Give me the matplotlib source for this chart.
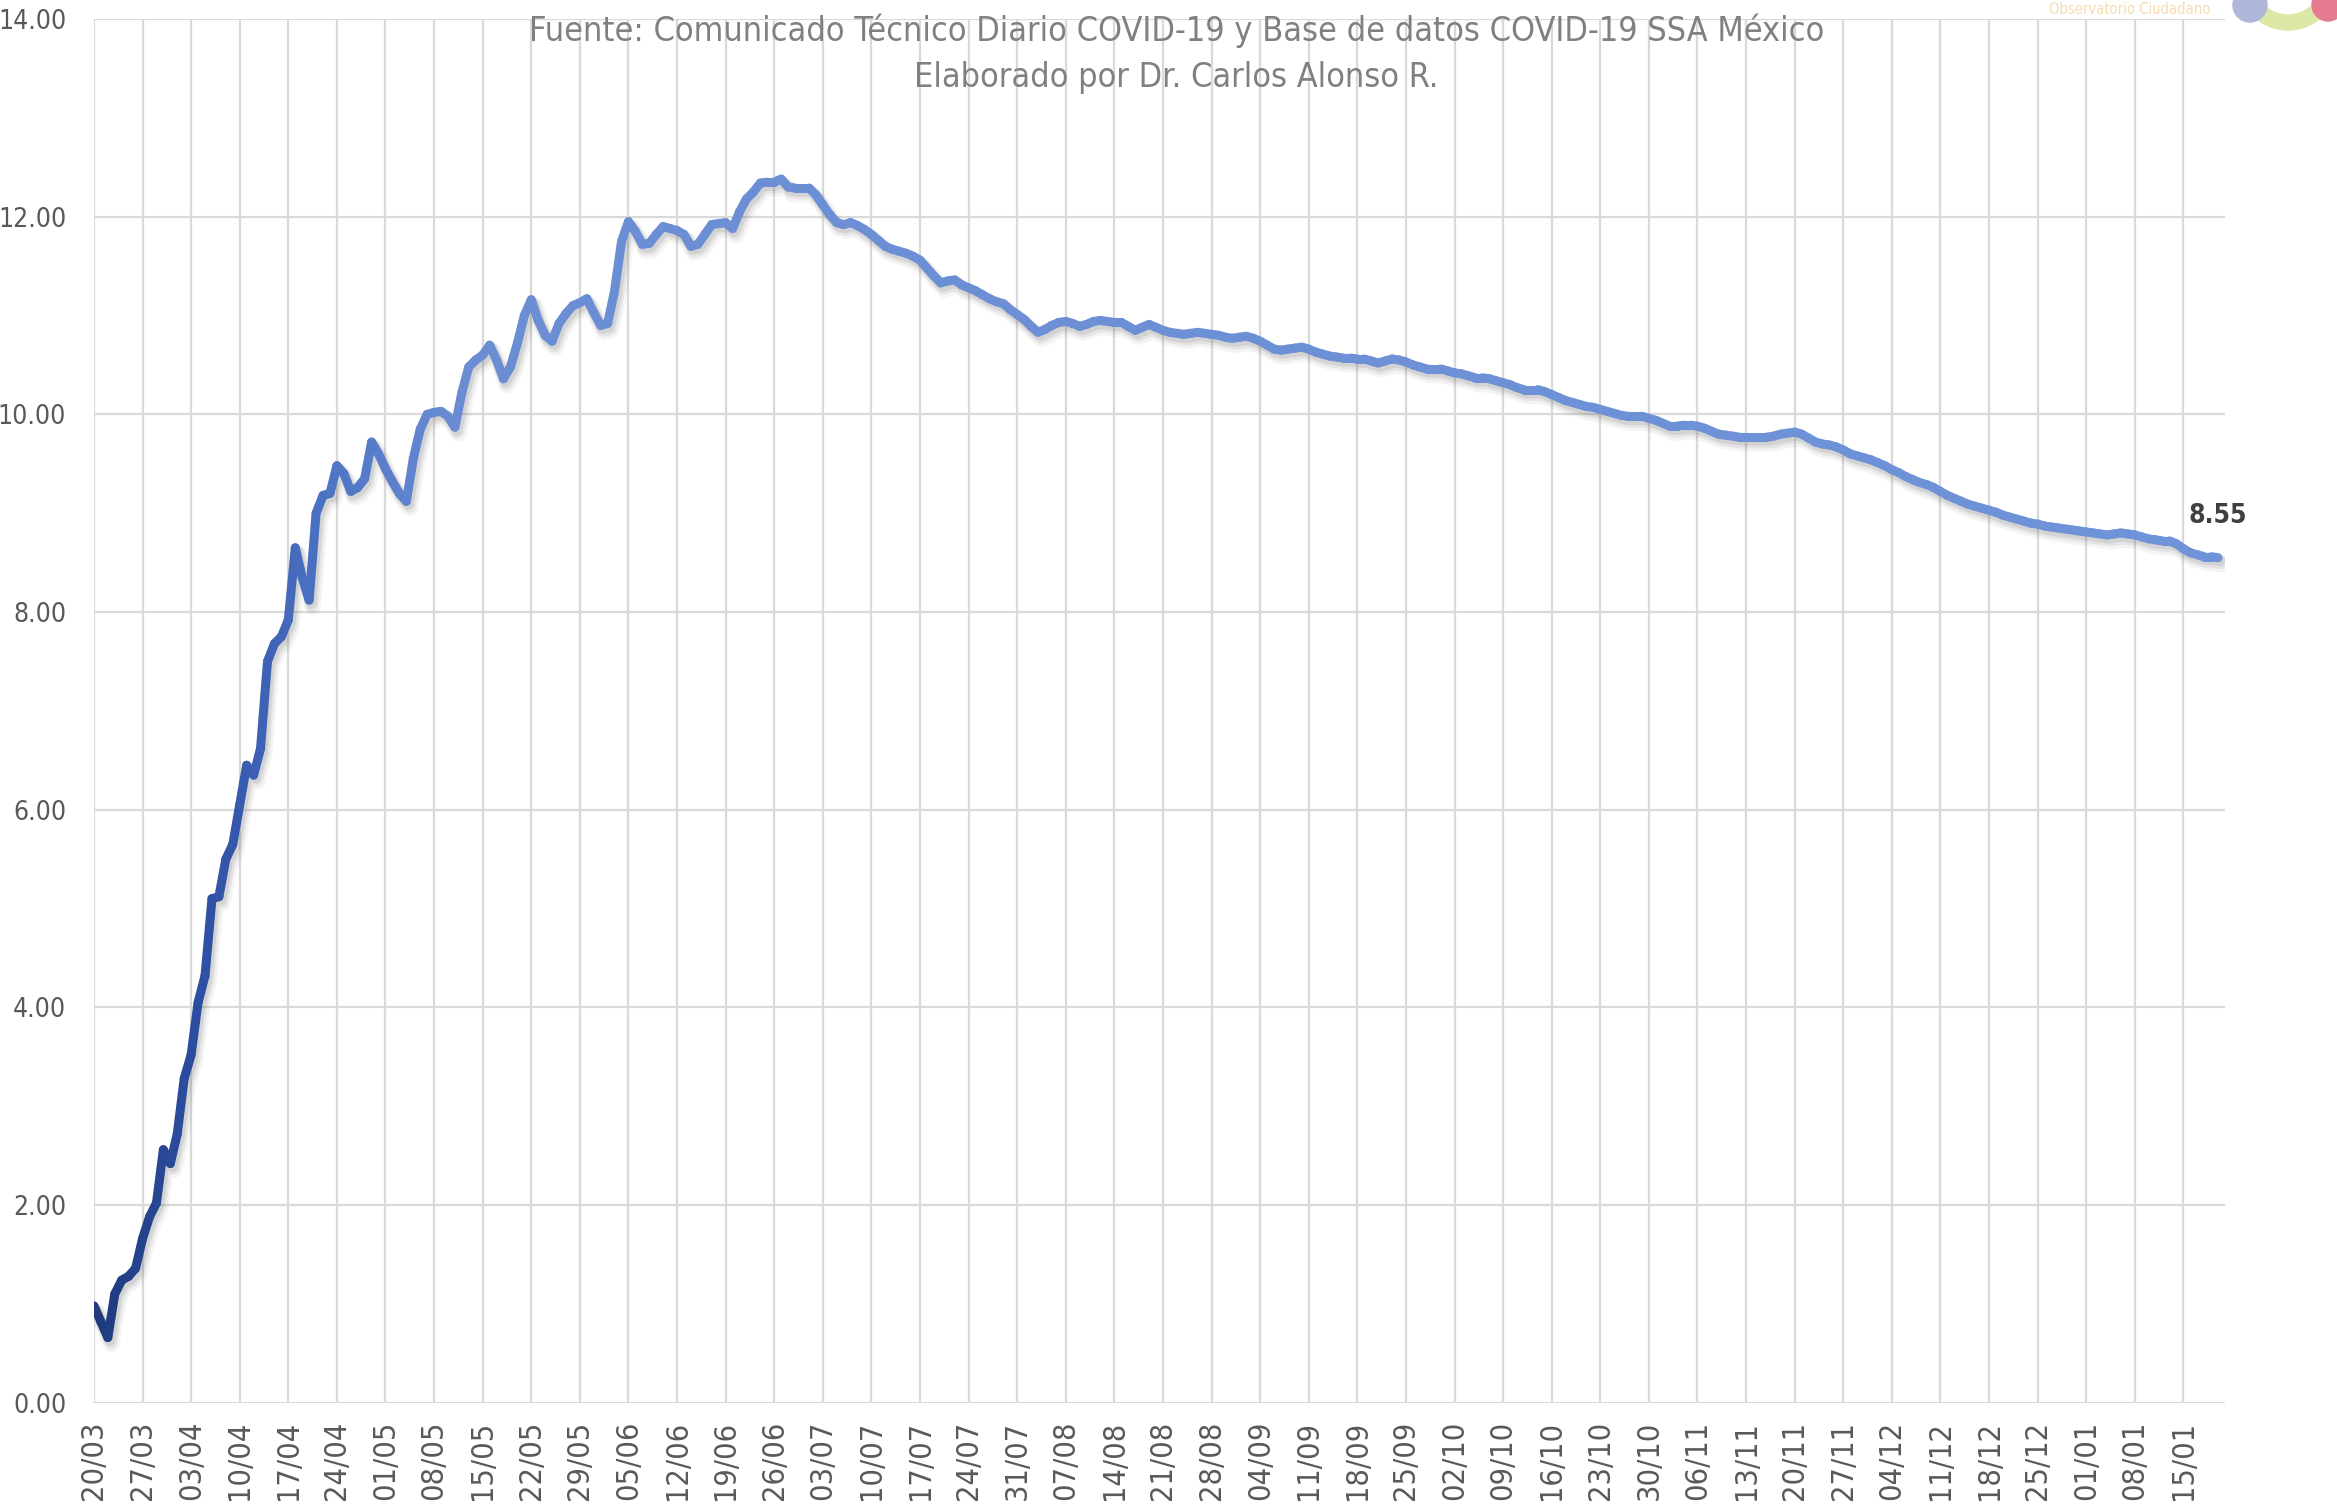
import numpy as np
import pandas as pd
import matplotlib
matplotlib.use('Agg')
import matplotlib.pyplot as plt
from matplotlib.collections import LineCollection
from matplotlib.colors import LinearSegmentedColormap
from matplotlib.patches import Circle, Wedge
from matplotlib.transforms import ScaledTranslation

# Valores diarios, por mes (20/03/2020 al 20/01/2021)
marzo = [0.98, 0.82, 0.66, 1.10, 1.24, 1.28, 1.36, 1.66, 1.88, 2.02, 2.56, 2.42]
abril = [2.72, 3.28, 3.52, 4.05, 4.32, 5.10, 5.12, 5.50, 5.65, 6.05,
         6.45, 6.35, 6.62, 7.50, 7.68, 7.75, 7.92, 8.65, 8.35, 8.12,
         9.00, 9.18, 9.20, 9.48, 9.40, 9.22, 9.26, 9.35, 9.72, 9.60]
mayo = [9.45, 9.32, 9.20, 9.12, 9.55, 9.85, 10.00, 10.02, 10.03, 9.98,
        9.87, 10.22, 10.48, 10.55, 10.60, 10.70, 10.55, 10.36, 10.48, 10.72,
        11.00, 11.16, 10.95, 10.80, 10.74, 10.92, 11.02, 11.10, 11.13, 11.17,
        11.03]
junio = [10.90, 10.92, 11.25, 11.75, 11.95, 11.85, 11.72, 11.73, 11.82, 11.90,
         11.88, 11.86, 11.82, 11.70, 11.72, 11.82, 11.92, 11.93, 11.94, 11.88,
         12.05, 12.18, 12.25, 12.34, 12.35, 12.35, 12.38, 12.30, 12.29, 12.29]
julio = [12.29, 12.22, 12.12, 12.02, 11.94, 11.92, 11.94, 11.91, 11.87, 11.82,
         11.76, 11.70, 11.67, 11.65, 11.63, 11.60, 11.56, 11.48, 11.40, 11.33,
         11.35, 11.36, 11.31, 11.28, 11.25, 11.21, 11.17, 11.14, 11.12, 11.06,
         11.01]
agosto = [10.96, 10.89, 10.83, 10.86, 10.90, 10.93, 10.94, 10.92, 10.89, 10.91,
          10.94, 10.95, 10.94, 10.93, 10.93, 10.89, 10.85, 10.88, 10.91, 10.88,
          10.85, 10.83, 10.82, 10.81, 10.82, 10.83, 10.82, 10.81, 10.80, 10.78,
          10.77]
septiembre = [10.78, 10.79, 10.77, 10.74, 10.70, 10.66, 10.65, 10.66, 10.67, 10.68,
              10.66, 10.63, 10.61, 10.59, 10.58, 10.57, 10.57, 10.56, 10.56, 10.54,
              10.52, 10.54, 10.56, 10.55, 10.53, 10.50, 10.48, 10.46, 10.46, 10.46]
octubre = [10.44, 10.42, 10.41, 10.39, 10.37, 10.37, 10.36, 10.34, 10.32, 10.30,
           10.27, 10.25, 10.25, 10.25, 10.23, 10.20, 10.17, 10.14, 10.12, 10.10,
           10.08, 10.07, 10.05, 10.03, 10.01, 9.99, 9.98, 9.98, 9.98, 9.96,
           9.94]
noviembre = [9.91, 9.88, 9.88, 9.89, 9.89, 9.88, 9.86, 9.83, 9.80, 9.79,
             9.78, 9.77, 9.77, 9.77, 9.77, 9.77, 9.78, 9.80, 9.81, 9.82,
             9.80, 9.76, 9.72, 9.70, 9.69, 9.67, 9.64, 9.60, 9.58, 9.56]
diciembre = [9.54, 9.51, 9.48, 9.44, 9.41, 9.37, 9.34, 9.31, 9.29, 9.26,
             9.22, 9.18, 9.15, 9.12, 9.09, 9.07, 9.05, 9.03, 9.01, 8.98,
             8.96, 8.94, 8.92, 8.90, 8.89, 8.87, 8.86, 8.85, 8.84, 8.83,
             8.82]
enero = [8.81, 8.80, 8.79, 8.78, 8.79, 8.80, 8.79, 8.78, 8.76, 8.74,
         8.73, 8.72, 8.72, 8.69, 8.64, 8.60, 8.58, 8.56, 8.56, 8.55]

serie = np.array(marzo + abril + mayo + junio + julio + agosto + septiembre
                 + octubre + noviembre + diciembre + enero)
fechas = pd.date_range('2020-03-20', periods=len(serie), freq='D')
dias = np.arange(len(serie))

# Etiquetas semanales del eje X
ticks_x = dias[::7]
etiquetas_x = fechas[::7].strftime('%d/%m')
ticks_y = np.arange(0, 15, 2)

titulo_1 = 'Fuente: Comunicado Técnico Diario COVID-19 y Base de datos COVID-19 SSA México'
titulo_2 = 'Elaborado por Dr. Carlos Alonso R.'

plt.rcParams['font.family'] = 'DejaVu Sans'
plt.rcParams['font.stretch'] = 'condensed'

fig = plt.figure(figsize=(23.37, 15.08), dpi=100)
ax = fig.add_axes([0.0402, 0.0698, 0.9119, 0.9176])

ax.set_xlim(0, 307)
ax.set_ylim(0, 14)
ax.set_xticks(ticks_x)
ax.set_xticklabels(etiquetas_x, rotation=90, fontsize=22, color='#595959')
ax.set_yticks(ticks_y)
ax.set_yticklabels([f'{v:.2f}' for v in ticks_y], fontsize=19, color='#595959')
ax.tick_params(axis='x', length=0, pad=13)
ax.tick_params(axis='y', length=0, pad=20)
ax.grid(True, color='#D9D9D9', linewidth=1.6)
ax.set_axisbelow(True)
for s in ax.spines.values():
    s.set_visible(False)

# Sombra difusa de la línea
for dx, dy, lw, a in [(2.5, -4.5, 12.0, 0.07), (2.0, -3.5, 9.5, 0.10), (1.5, -2.5, 7.5, 0.14)]:
    desplaz = ax.transData + ScaledTranslation(dx / 72, dy / 72, fig.dpi_scale_trans)
    ax.plot(dias, serie, color='#6a6a6a', lw=lw, alpha=a,
            solid_capstyle='round', solid_joinstyle='round', transform=desplaz)

# Línea con degradado de color
grad = LinearSegmentedColormap.from_list('grad', [
    (0.0, '#1F3B7E'), (0.05, '#2E50A4'), (0.10, '#4A70C2'),
    (0.17, '#6A8DD4'), (1.0, '#6F93D8')])
puntos = np.column_stack([dias, serie])
segmentos = np.stack([puntos[:-1], puntos[1:]], axis=1)
colores = grad(dias[:-1] / dias[-1])
lc = LineCollection(segmentos, colors=colores, linewidths=6.5,
                    capstyle='round', joinstyle='round')
ax.add_collection(lc)

ax.annotate(f'{serie[-1]:.2f}', (dias[-1], serie[-1]), xytext=(0, 30),
            textcoords='offset points', ha='center', va='center',
            fontsize=19, fontweight='bold', color='#404040')

fig.text(0.5033, 0.9794, titulo_1, ha='center', va='center', fontsize=24.5, color='#808080')
fig.text(0.5033, 0.9486, titulo_2, ha='center', va='center', fontsize=24.5, color='#808080')
fig.text(0.9114, 0.994, 'Observatorio Ciudadano', ha='center', va='center',
         fontsize=10.5, color='#F6DCB0')

# Logo recortado arriba a la derecha
t = fig.dpi_scale_trans
fig.add_artist(Wedge((22.88, 15.28), 0.50, 0, 360, width=0.15, color='#DDE7A6', transform=t))
fig.add_artist(Circle((22.50, 15.03), 0.17, color='#AEB7DA', transform=t))
fig.add_artist(Circle((23.28, 15.03), 0.16, color='#E57C92', transform=t))

fig.savefig('out.png', dpi=100)
